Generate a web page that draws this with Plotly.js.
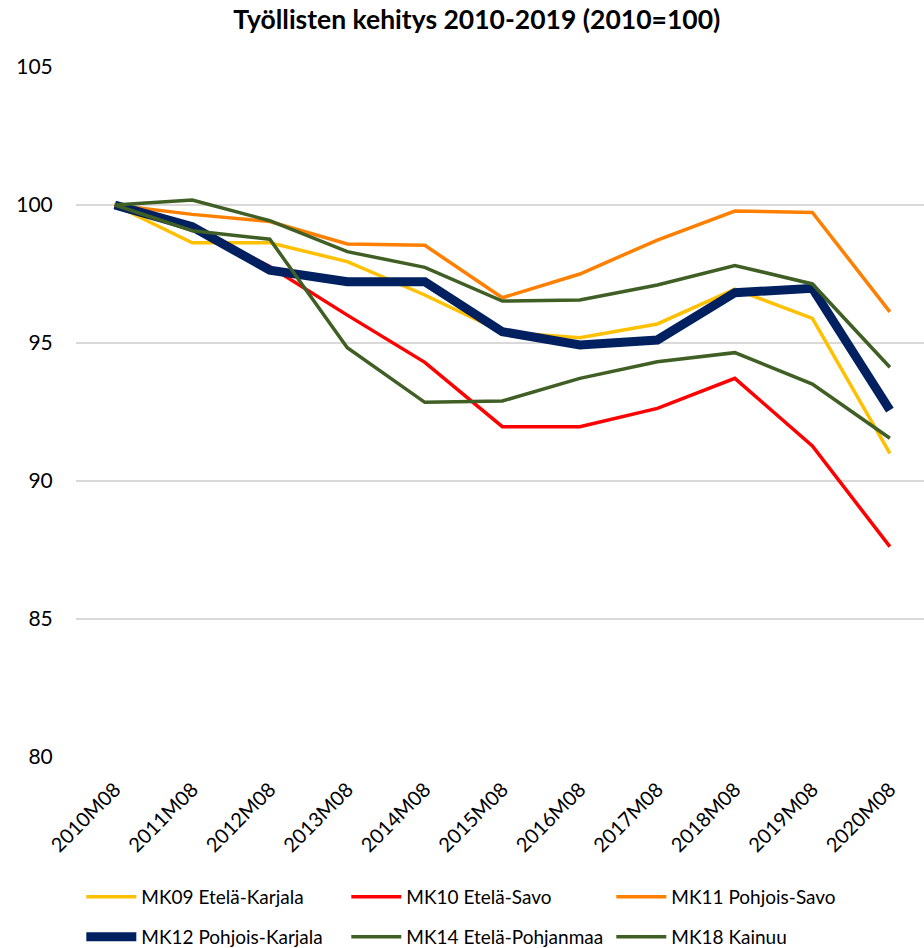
<!DOCTYPE html>
<html>
<head>
<meta charset="utf-8">
<script src="https://cdn.plot.ly/plotly-3.0.1.min.js"></script>
<style>html,body{margin:0;padding:0;background:#fff;} #chart{width:924px;height:948px;}</style>
</head>
<body>
<div id="chart"></div>
<script>
const categories = ["2010M08","2011M08","2012M08","2013M08","2014M08","2015M08","2016M08","2017M08","2018M08","2019M08","2020M08"];
const mk09 = [100, 98.63, 98.63, 97.95, 96.74, 95.40, 95.19, 95.69, 96.95, 95.89, 91.00];
const mk10 = [100, 99.20, 97.77, 96.01, 94.30, 91.97, 91.97, 92.63, 93.72, 91.27, 87.62];
const mk11 = [100, 99.66, 99.40, 98.59, 98.54, 96.64, 97.50, 98.73, 99.78, 99.73, 96.13];
const mk12 = [100, 99.21, 97.64, 97.22, 97.22, 95.41, 94.93, 95.11, 96.82, 96.98, 92.57];
const mk14 = [100, 100.18, 99.43, 98.31, 97.74, 96.52, 96.56, 97.10, 97.81, 97.14, 94.12];
const mk18 = [100, 99.07, 98.76, 94.83, 92.85, 92.90, 93.72, 94.32, 94.65, 93.51, 91.55];
const names = ["MK09 Etelä-Karjala","MK10 Etelä-Savo","MK11 Pohjois-Savo","MK12 Pohjois-Karjala","MK14 Etelä-Pohjanmaa","MK18 Kainuu"];
const yTicks = [80, 85, 90, 95, 100, 105];

const FONT = "Lato, 'Open Sans', sans-serif";
function tr(y, name, color, width, legend) {
  return {x: categories, y: y, name: name, type: 'scatter', mode: 'lines',
          line: {color: color, width: width, shape: 'linear'}, legend: legend, hoverinfo: 'skip'};
}
const data = [
  tr(mk09, names[0], '#FFC000', 3.5, 'legend'),
  tr(mk10, names[1], '#FF0000', 3.5, 'legend'),
  tr(mk11, names[2], '#FF8000', 3.5, 'legend'),
  tr(mk12, names[3], '#002060', 9, 'legend2'),
  tr(mk14, names[4], '#3F5F25', 3.5, 'legend2'),
  tr(mk18, names[5], '#3F5F25', 3.5, 'legend2')
];
const legendBase = {
  orientation: 'h', xref: 'container', yref: 'container', x: 0.088, xanchor: 'left',
  yanchor: 'middle', entrywidth: 200, entrywidthmode: 'pixels',
  font: {family: FONT, size: 19, color: '#000'}, bgcolor: 'rgba(0,0,0,0)', itemwidth: 50
};
const layout = {
  width: 924, height: 948,
  margin: {l: 76, r: 0, t: 67, b: 191},
  paper_bgcolor: '#fff', plot_bgcolor: '#fff',
  title: {text: '<b>Työllisten kehitys 2010-2019 (2010=100)</b>', xref: 'container', yref: 'container',
          x: 0.516, xanchor: 'center', y: 0.979, yanchor: 'middle',
          font: {family: FONT, size: 26.5, color: '#000'}},
  xaxis: {type: 'category', range: [-0.5, 10.44], tickangle: -45, showgrid: false, zeroline: false,
          showline: false, ticks: 'outside', ticklen: 12, tickcolor: 'rgba(0,0,0,0)', automargin: false,
          tickfont: {family: FONT, size: 20, color: '#000'}},
  yaxis: {range: [80, 105], tickvals: yTicks, ticktext: yTicks.map(String), showgrid: true,
          gridcolor: '#D9D9D9', gridwidth: 1.5, zeroline: false, showline: false,
          ticks: 'outside', ticklen: 18, tickcolor: 'rgba(0,0,0,0)', automargin: false,
          tickfont: {family: FONT, size: 21, color: '#000'}},
  legend: Object.assign({}, legendBase, {y: 1 - 897/948}),
  legend2: Object.assign({}, legendBase, {y: 1 - 937/948}),
  showlegend: true
};
Plotly.newPlot('chart', data, layout, {displayModeBar: false, staticPlot: true});
</script>
</body>
</html>
